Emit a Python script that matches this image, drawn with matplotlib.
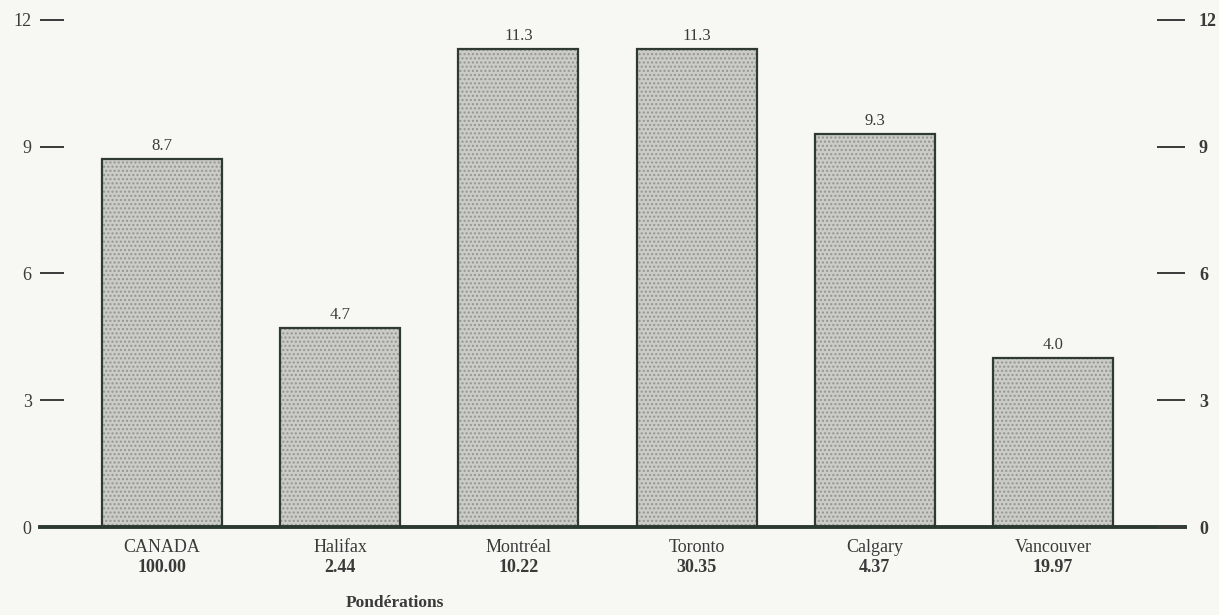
import matplotlib
matplotlib.use("Agg")
import matplotlib.pyplot as plt

# Daten
villes = ["CANADA", "Halifax", "Montréal", "Toronto", "Calgary", "Vancouver"]
ponderations = ["100.00", "2.44", "10.22", "30.35", "4.37", "19.97"]
valeurs = [8.7, 4.7, 11.3, 11.3, 9.3, 4.0]
yticks = [0, 3, 6, 9, 12]

plt.rcParams['font.family'] = ['Liberation Serif', 'DejaVu Serif']
texte = '#3a3a3a'

fig = plt.figure(figsize=(12.19, 6.15), dpi=100)
fig.patch.set_facecolor('#f7f7f4')
ax = fig.add_axes([40/1219, 88/615, 1145/1219, 527/615])
ax.set_facecolor('none')

x = list(range(len(villes)))
bars = ax.bar(x, valeurs, width=0.673, color='#cbcbc8', edgecolor='#2f3a33',
              linewidth=1.6, hatch='....', zorder=2)
for b in bars:
    b._hatch_color = (0.58, 0.58, 0.58, 1.0)

for xi, v in zip(x, valeurs):
    ax.text(xi, v + 0.12, f"{v:.1f}", ha='center', va='bottom',
            fontsize=12, color=texte)

ax.set_xlim(-0.685, 5.741)
ax.set_ylim(0, 12.47)

for s in ['top', 'left', 'right']:
    ax.spines[s].set_visible(False)
ax.spines['bottom'].set_color('#2a3a30')
ax.spines['bottom'].set_linewidth(2.8)

# linke Achse
ax.set_yticks(yticks)
ax.set_yticklabels([str(t) for t in yticks], fontsize=13, color=texte)
ax.tick_params(axis='y', direction='in', length=17, width=1.4, color='#3a3a3a',
               pad=6, left=True, right=False)

# rechte Achse
ax2 = ax.twinx()
ax2.set_ylim(ax.get_ylim())
ax2.set_yticks(yticks)
ax2.set_yticklabels([str(t) for t in yticks], fontsize=13, color=texte,
                    fontweight='bold')
ax2.tick_params(axis='y', direction='in', length=20, width=1.4, color='#3a3a3a',
                pad=10)
for s in ax2.spines.values():
    s.set_visible(False)

# Beschriftung unter den Balken
ax.set_xticks(x)
ax.set_xticklabels([])
ax.tick_params(axis='x', length=0)
for xi, nom, p in zip(x, villes, ponderations):
    ax.annotate(nom, xy=(xi, 0), xycoords=('data', 'axes fraction'),
                xytext=(0, -15), textcoords='offset points', ha='center',
                va='center', fontsize=13, color=texte)
    ax.annotate(p, xy=(xi, 0), xycoords=('data', 'axes fraction'),
                xytext=(0, -29.5), textcoords='offset points', ha='center',
                va='center', fontsize=13, fontweight='bold', color=texte)

fig.text(395/1219, 1 - 603/615, "Pondérations", ha='center', va='center',
         fontsize=12.5, fontweight='bold', color=texte)

fig.savefig("out.png", dpi=100, facecolor=fig.get_facecolor())
